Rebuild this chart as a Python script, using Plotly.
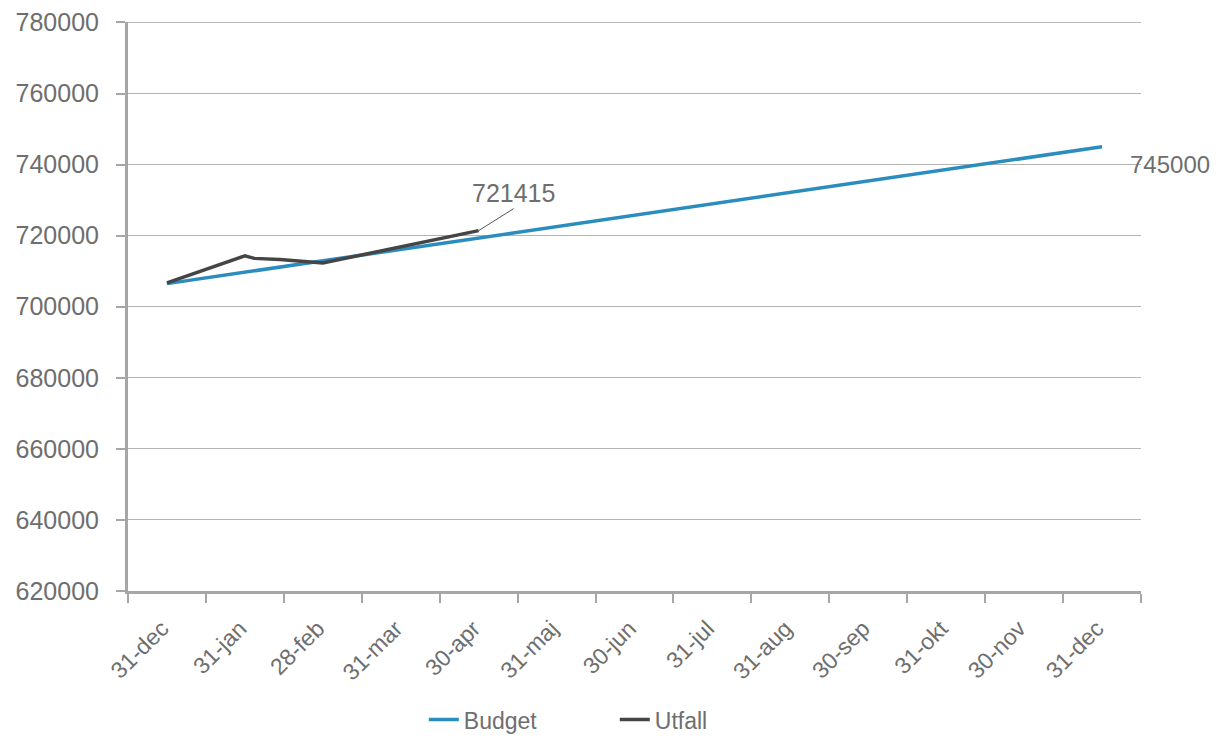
import plotly.graph_objects as go

categories = ["31-dec", "31-jan", "28-feb", "31-mar", "30-apr", "31-maj", "30-jun",
              "31-jul", "31-aug", "30-sep", "31-okt", "30-nov", "31-dec"]

# Budget: straight line from first to last period
budget_pos = [0, 12]
budget_values = [706500, 745000]

# Utfall (actuals), positions in period units
utfall_pos = [0, 1.0, 1.12, 1.45, 2.0, 4.0]
utfall_values = [706700, 714300, 713600, 713300, 712300, 721415]

y_ticks = [620000, 640000, 660000, 680000, 700000, 720000, 740000, 760000, 780000]

font_family = "Liberation Sans, Arial, sans-serif"
text_color = "#6e6e6e"
num_size = 25
grid_color = "#b3b3b3"

fig = go.Figure()
fig.add_trace(go.Scatter(x=budget_pos, y=budget_values, mode="lines", name="Budget",
                         line=dict(color="#2b8cbe", width=3.5)))
fig.add_trace(go.Scatter(x=utfall_pos, y=utfall_values, mode="lines", name="Utfall",
                         line=dict(color="#454545", width=3.5)))

fig.add_annotation(x=utfall_pos[-1], y=utfall_values[-1], text=str(utfall_values[-1]),
                   showarrow=True, arrowhead=0, arrowwidth=1, arrowcolor="#555555",
                   ax=35, ay=-22, font=dict(size=num_size, color=text_color, family=font_family),
                   yanchor="bottom")
fig.add_annotation(x=budget_pos[-1], y=budget_values[-1], text=str(budget_values[-1]),
                   showarrow=False, xanchor="left", yanchor="middle",
                   xshift=26, yshift=-18,
                   font=dict(size=24, color=text_color, family=font_family))

# top gridline (plotly skips the gridline on the plot edge)
fig.add_shape(type="line", xref="paper", yref="y", x0=0, x1=1,
              y0=y_ticks[-1], y1=y_ticks[-1], line=dict(color=grid_color, width=1),
              layer="below")

fig.update_layout(
    width=1220, height=745,
    margin=dict(l=120, r=87, t=14, b=152),
    paper_bgcolor="white", plot_bgcolor="white",
    font=dict(family=font_family, size=24, color=text_color),
    showlegend=True,
    legend=dict(orientation="h", x=0.292, xanchor="left", y=-0.226, yanchor="middle",
                font=dict(size=23, color=text_color), entrywidth=146, entrywidthmode="pixels",
                bgcolor="rgba(0,0,0,0)"),
    xaxis=dict(
        range=[-0.5, 12.5], tickmode="array", automargin=False,
        tickvals=list(range(len(categories))), ticktext=categories,
        tickangle=-45, ticks="", showgrid=False, zeroline=False,
        showline=True, linecolor="#a6a6a6", linewidth=3,
        tickfont=dict(size=23, color=text_color),
        ticklabelstandoff=12, ticklabelshift=-5,
        minor=dict(tickmode="linear", tick0=-0.5, dtick=1, ticks="outside",
                   ticklen=9, tickwidth=2, tickcolor="#a6a6a6", showgrid=False),
    ),
    yaxis=dict(
        range=[620000, 780120], tickmode="array", tickvals=y_ticks, automargin=False,
        ticktext=[str(v) for v in y_ticks], ticklabeloverflow="allow",
        ticks="outside", ticklen=9, tickwidth=1.5, tickcolor="#a6a6a6",
        showgrid=True, gridcolor=grid_color, gridwidth=1,
        zeroline=False, showline=True, linecolor="#a6a6a6", linewidth=3,
        tickfont=dict(size=num_size, color=text_color), ticklabelstandoff=12,
    ),
)

fig.write_html("out.html")
